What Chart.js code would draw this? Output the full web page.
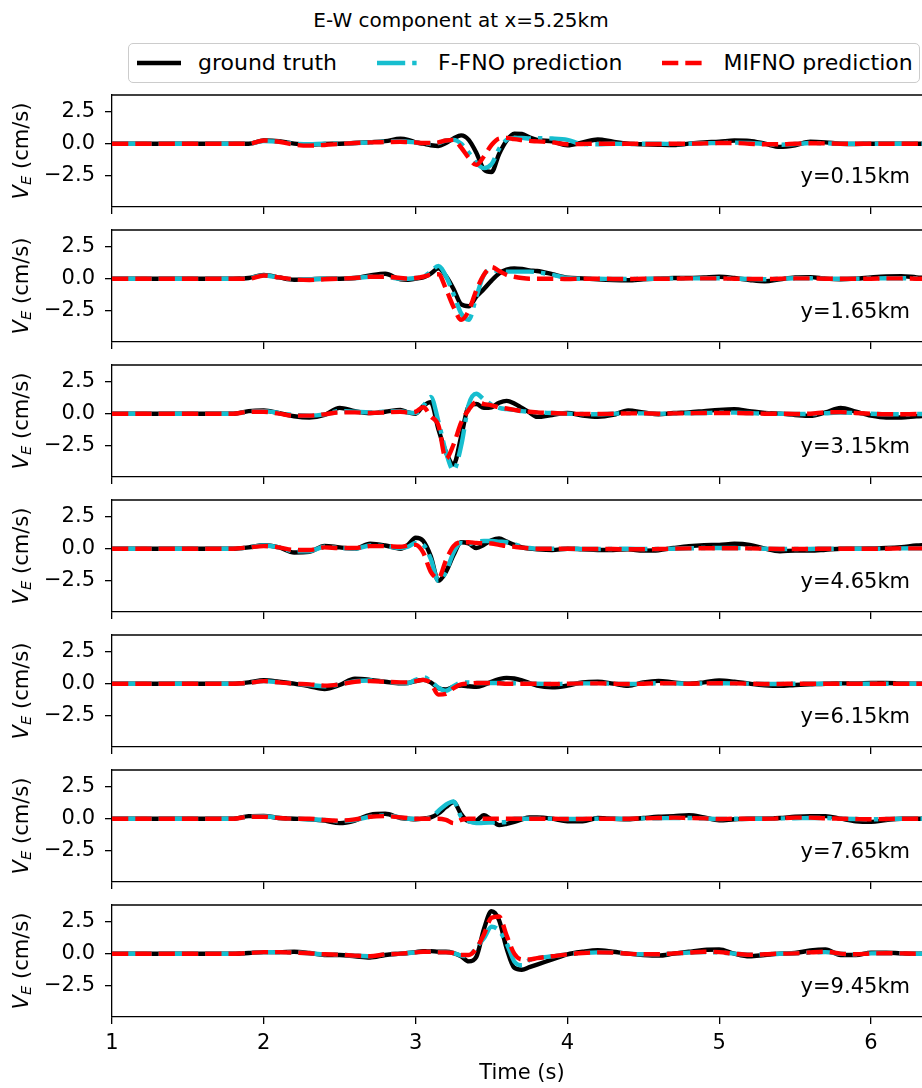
<!DOCTYPE html>
<html>
<head>
<meta charset="utf-8">
<script src="https://cdn.jsdelivr.net/npm/chart.js@4.4.1/dist/chart.umd.min.js"></script>
<style>
  html, body { margin: 0; padding: 0; background: #fff; }
  body { position: relative; width: 922px; height: 1088px; overflow: hidden; font-family: 'DejaVu Sans', sans-serif; color: #000; }
  .txt { position: absolute; white-space: nowrap; font-size: 21px; line-height: 21px; }
  #title { left: 461px; top: 9.5px; font-size: 20px; line-height: 20px; transform: translateX(-50%); }
  #legend { position: absolute; left: 128px; top: 43px; width: 792px; height: 40px; box-sizing: border-box;
            border: 1px solid #cccccc; border-radius: 5px; background: rgba(255,255,255,.8);
            display: flex; align-items: center; padding-left: 8px; font-size: 22px; line-height: 22px; white-space: nowrap; }
  #legend .item { display: flex; align-items: center; margin-right: 40px; }
  #legend svg { margin-right: 17px; }
  .ylab { transform: translate(-50%, -50%) rotate(-90deg); }
  .ylab sub { font-size: 0.7em; line-height: 0; vertical-align: -0.25em; font-style: italic; }
  .panel { position: absolute; left: 0; }
</style>
</head>
<body>
<div id="title" class="txt">E-W component at x=5.25km</div>
<div id="legend">
  <div class="item"><svg width="44" height="10"><line x1="0" y1="5" x2="44" y2="5" stroke="#000000" stroke-width="4.4"/></svg>ground truth</div>
  <div class="item"><svg width="44" height="10"><line x1="0" y1="5" x2="44" y2="5" stroke="#17becf" stroke-width="4.4" stroke-dasharray="28.2 7 4.4 7"/></svg>F-FNO prediction</div>
  <div class="item"><svg width="44" height="10"><line x1="0" y1="5" x2="44" y2="5" stroke="#ff0000" stroke-width="4.4" stroke-dasharray="16.3 7"/></svg>MIFNO prediction</div>
</div>
<div id="panels"></div>
<div id="xlabel" class="txt" style="left:522px; top:1062px; transform: translateX(-50%);">Time (s)</div>

<script>
'use strict';

// ─── Sampling times (s) ───────────────────────────────────────
const TIME = [
  1.0, 1.2, 1.4, 1.6, 1.8,
  1.9, 2.0, 2.1, 2.2, 2.3, 2.4, 2.5, 2.6, 2.7, 2.8, 2.9,
  2.95, 3.0, 3.05, 3.1, 3.15, 3.2, 3.25, 3.3, 3.35, 3.4, 3.45, 3.5, 3.55, 3.6, 3.65, 3.7, 3.75, 3.8,
  3.9, 4.0, 4.1, 4.2, 4.3, 4.4, 4.5, 4.6, 4.7, 4.8, 4.9, 5.0, 5.1, 5.2, 5.3, 5.4, 5.5, 5.6, 5.7, 5.8, 5.9, 6.0, 6.1, 6.2, 6.3, 6.4,
];

const positions = ['y=0.15km', 'y=1.65km', 'y=3.15km', 'y=4.65km', 'y=6.15km', 'y=7.65km', 'y=9.45km'];
const xTicks = [1, 2, 3, 4, 5, 6];
const yTicks = [-2.5, 0, 2.5];

// ─── V_E (cm/s) : y = 0.15 km ─────────────────────────────────
const truth015 = [
  0, 0, 0, 0, 0,
  0, 0.25, 0.2, 0.0, -0.08, -0.02, 0.0, 0.05, 0.12, 0.2, 0.38,
  0.3, 0.1, 0.0, -0.12, -0.18, 0.05, 0.4, 0.65, 0.3, -0.7, -2.0, -2.2, -0.8, 0.25, 0.78, 0.75, 0.5, 0.3,
  0.18, -0.12, 0.1, 0.33, 0.15, 0.0, -0.05, -0.08, -0.1, 0.0, 0.1, 0.15, 0.25, 0.22, 0.0, -0.25, -0.12, 0.15, 0.1, 0.0, -0.02, 0.0, 0.0, 0.0, 0.0, 0.0,
];
const ffno015 = [
  0, 0, 0, 0, 0,
  0, 0.2, 0.15, 0.0, -0.05, 0.0, 0.0, 0.05, 0.1, 0.15, 0.2,
  0.15, 0.1, 0.05, 0.0, 0.05, 0.25, 0.3, 0.0, -0.7, -1.5, -1.9, -1.6, -0.4, 0.3, 0.45, 0.45, 0.4, 0.42,
  0.4, 0.3, -0.03, -0.05, 0.0, -0.03, 0.0, 0.0, -0.03, 0.0, 0.03, 0.05, 0.08, 0.05, -0.02, -0.08, -0.03, 0.05, 0.03, 0.0, 0.0, 0.0, 0.0, 0.0, 0.0, 0.0,
];
const mifno015 = [
  0, 0, 0, 0, 0,
  0, 0.25, 0.15, -0.08, -0.15, -0.1, -0.02, 0.05, 0.1, 0.12, 0.15,
  0.12, 0.1, 0.05, 0.05, 0.1, 0.25, 0.3, -0.3, -1.1, -1.65, -1.0, -0.1, 0.4, 0.45, 0.35, 0.28, 0.22, 0.18,
  0.1, -0.05, -0.02, 0.0, 0.0, 0.0, -0.02, -0.03, 0.0, 0.0, 0.02, 0.05, 0.05, 0.0, -0.05, -0.05, 0.0, 0.03, 0.02, 0.0, 0.0, 0.0, 0.0, 0.0, 0.0, 0.0,
];

// ─── y = 1.65 km ──────────────────────────────────────────────
const truth165 = [
  0, 0, 0, 0, 0,
  0.05, 0.3, 0.1, -0.08, -0.05, 0.0, 0.0, 0.05, 0.25, 0.38, -0.05,
  -0.08, 0.0, 0.1, 0.4, 0.8, 0.2, -0.8, -2.0, -2.15, -1.4, -0.8, -0.15, 0.4, 0.7, 0.8, 0.75, 0.65, 0.6,
  0.35, 0.08, 0.02, -0.05, -0.1, -0.12, -0.05, 0.0, 0.05, 0.05, 0.1, 0.15, 0.05, -0.1, -0.2, -0.05, 0.1, 0.12, 0.0, -0.05, 0.0, 0.1, 0.18, 0.2, 0.1, 0.05,
];
const ffno165 = [
  0, 0, 0, 0, 0,
  0.05, 0.25, 0.1, -0.05, -0.05, 0.0, 0.0, 0.05, 0.15, 0.15, 0.0,
  0.0, 0.05, 0.15, 0.55, 1.0, 0.2, -1.2, -2.7, -3.2, -1.4, 0.3, 0.65, 0.6, 0.55, 0.55, 0.55, 0.55, 0.5,
  0.3, 0.05, 0.0, 0.0, -0.03, -0.03, 0.0, 0.0, 0.02, 0.02, 0.03, 0.03, 0.0, -0.03, -0.05, 0.0, 0.03, 0.03, 0.0, 0.0, 0.0, 0.02, 0.03, 0.03, 0.02, 0.0,
];
const mifno165 = [
  0, 0, 0, 0, 0,
  0.0, 0.25, 0.1, -0.05, -0.1, -0.05, 0.0, 0.05, 0.15, 0.15, 0.05,
  0.0, 0.05, 0.15, 0.3, 0.35, -0.8, -2.2, -3.2, -2.5, -0.9, 0.3, 0.9, 0.6, 0.3, 0.15, 0.05, 0.0, 0.0,
  0.0, -0.03, 0.0, 0.0, -0.02, -0.03, 0.0, 0.0, 0.0, 0.02, 0.02, 0.02, 0.0, -0.02, -0.03, 0.0, 0.02, 0.02, 0.0, 0.0, 0.0, 0.0, 0.02, 0.02, 0.0, 0.0,
];

// ─── y = 3.15 km ──────────────────────────────────────────────
const truth315 = [
  0, 0, 0, 0, 0,
  0.2, 0.25, 0.05, -0.2, -0.3, -0.1, 0.45, 0.2, 0.05, 0.15, 0.3,
  0.1, 0.0, 0.6, 0.9, -1.2, -3.0, -3.95, -1.8, 0.6, 0.75, 0.45, 0.5, 0.85, 1.0, 0.8, 0.45, 0.1, -0.25,
  -0.1, 0.05, -0.15, -0.25, -0.1, 0.25, 0.1, -0.05, 0.05, 0.1, 0.2, 0.3, 0.35, 0.2, 0.05, 0.0, -0.1, -0.17, 0.1, 0.45, 0.15, -0.15, -0.3, -0.3, -0.2, -0.15,
];
const ffno315 = [
  0, 0, 0, 0, 0,
  0.15, 0.2, 0.05, -0.1, -0.15, -0.05, 0.2, 0.15, 0.1, 0.15, 0.2,
  0.1, 0.05, 0.6, 1.3, -0.6, -3.0, -4.4, -2.5, 0.7, 1.55, 1.1, 0.7, 0.45, 0.35, 0.3, 0.2, 0.15, 0.1,
  0.05, 0.0, -0.03, -0.05, 0.0, 0.03, 0.02, 0.0, 0.02, 0.03, 0.05, 0.08, 0.08, 0.05, 0.0, 0.0, -0.03, -0.03, 0.03, 0.08, 0.05, 0.0, -0.05, -0.05, -0.03, -0.03,
];
const mifno315 = [
  0, 0, 0, 0, 0,
  0.15, 0.15, 0.0, -0.15, -0.15, -0.05, 0.1, 0.1, 0.05, 0.1, 0.15,
  0.1, 0.15, 0.5, -0.2, -0.9, -3.5, -2.4, -0.7, 0.3, 0.9, 0.75, 0.65, 0.5, 0.4, 0.3, 0.2, 0.15, 0.1,
  0.05, 0.0, -0.02, -0.03, 0.0, 0.02, 0.02, 0.0, 0.02, 0.03, 0.05, 0.05, 0.05, 0.03, 0.0, 0.0, -0.02, 0.0, 0.1, 0.12, 0.05, 0.0, -0.05, -0.05, -0.03, -0.03,
];

// ─── y = 4.65 km ──────────────────────────────────────────────
const truth465 = [
  0, 0, 0, 0, 0,
  0.1, 0.27, 0.1, -0.3, -0.25, 0.22, 0.1, 0.0, 0.38, 0.25, 0.0,
  0.3, 0.85, 0.6, -0.6, -2.5, -1.8, -0.5, 0.5, 0.4, 0.05, 0.3, 0.65, 0.8, 0.55, 0.3, 0.1, 0.0, -0.05,
  -0.1, 0.0, -0.05, -0.1, -0.1, -0.05, -0.15, -0.12, 0.05, 0.2, 0.28, 0.3, 0.38, 0.3, 0.0, -0.2, -0.15, -0.15, -0.08, 0.0, 0.0, 0.02, 0.05, 0.12, 0.25, 0.3,
];
const ffno465 = [
  0, 0, 0, 0, 0,
  0.1, 0.25, 0.1, -0.2, -0.2, 0.15, 0.05, 0.0, 0.25, 0.2, 0.05,
  0.15, 0.45, 0.3, -0.8, -2.5, -1.8, -0.3, 0.45, 0.35, 0.55, 0.6, 0.6, 0.55, 0.5, 0.35, 0.15, 0.05, 0.0,
  0.0, 0.0, -0.02, -0.03, -0.02, 0.0, -0.03, -0.02, 0.0, 0.03, 0.05, 0.05, 0.05, 0.03, 0.0, -0.03, -0.02, -0.02, 0.0, 0.0, 0.0, 0.0, 0.0, 0.02, 0.03, 0.03,
];
const mifno465 = [
  0, 0, 0, 0, 0,
  0.1, 0.2, 0.1, -0.1, -0.1, 0.1, 0.05, 0.05, 0.2, 0.2, 0.15,
  0.25, 0.3, -0.3, -1.8, -2.3, -0.9, 0.2, 0.5, 0.5, 0.45, 0.42, 0.4, 0.3, 0.2, 0.15, 0.08, 0.03, 0.0,
  0.0, 0.0, -0.02, -0.03, -0.03, -0.05, -0.05, -0.03, 0.0, 0.02, 0.03, 0.03, 0.03, 0.02, 0.0, -0.02, -0.02, -0.02, 0.0, 0.0, 0.0, 0.0, 0.0, 0.02, 0.02, 0.02,
];

// ─── y = 6.15 km ──────────────────────────────────────────────
const truth615 = [
  0, 0, 0, 0, 0,
  0.1, 0.27, 0.15, 0.0, -0.2, -0.42, -0.1, 0.38, 0.3, 0.15, 0.02,
  0.05, 0.2, 0.3, 0.1, -0.35, -0.45, -0.25, -0.15, -0.2, -0.25, -0.1, 0.15, 0.35, 0.45, 0.4, 0.25, 0.05, -0.15,
  -0.28, -0.15, 0.1, 0.15, 0.0, -0.17, 0.1, 0.22, 0.1, 0.0, 0.1, 0.25, 0.15, 0.0, -0.12, -0.17, -0.1, -0.05, 0.0, 0.02, 0.02, 0.05, 0.05, 0.02, 0.0, 0.0,
];
const ffno615 = [
  0, 0, 0, 0, 0,
  0.05, 0.2, 0.1, 0.0, -0.1, -0.2, -0.05, 0.2, 0.25, 0.15, 0.05,
  0.05, 0.3, 0.5, 0.2, -0.3, -0.55, -0.2, 0.1, 0.1, 0.05, 0.05, 0.05, 0.05, 0.05, 0.03, 0.0, 0.0, 0.0,
  -0.03, 0.0, 0.02, 0.02, 0.0, -0.03, 0.0, 0.03, 0.02, 0.0, 0.02, 0.03, 0.02, 0.0, -0.02, -0.02, 0.0, 0.0, 0.0, 0.0, 0.0, 0.0, 0.0, 0.0, 0.0, 0.0,
];
const mifno615 = [
  0, 0, 0, 0, 0,
  0.05, 0.2, 0.1, 0.0, -0.05, -0.15, -0.05, 0.15, 0.2, 0.15, 0.1,
  0.1, 0.2, 0.3, 0.05, -0.85, -0.8, -0.35, -0.05, 0.0, 0.05, 0.05, 0.05, 0.03, 0.0, 0.0, 0.0, 0.0, 0.0,
  -0.03, 0.0, 0.02, 0.02, 0.0, -0.03, 0.0, 0.03, 0.02, 0.0, 0.02, 0.03, 0.02, 0.0, -0.02, -0.02, 0.0, 0.0, 0.0, 0.0, 0.0, 0.0, 0.0, 0.0, 0.0, 0.0,
];

// ─── y = 7.65 km ──────────────────────────────────────────────
const truth765 = [
  0, 0, 0, 0, 0,
  0.2, 0.22, 0.05, 0.0, -0.05, -0.15, -0.35, -0.15, 0.3, 0.38, 0.05,
  0.0, -0.05, 0.0, 0.1, 0.4, 0.9, 1.3, 0.35, -0.2, -0.15, 0.28, -0.1, -0.5, -0.4, -0.25, -0.05, 0.1, 0.1,
  0.0, -0.2, -0.2, 0.05, 0.0, -0.05, 0.05, 0.15, 0.2, 0.27, 0.1, -0.12, -0.05, 0.0, 0.0, 0.05, 0.15, 0.2, 0.2, 0.0, -0.2, -0.25, -0.1, 0.0, 0.0, 0.0,
];
const ffno765 = [
  0, 0, 0, 0, 0,
  0.15, 0.2, 0.05, 0.0, -0.05, -0.1, -0.2, -0.1, 0.15, 0.25, 0.1,
  0.0, 0.0, 0.0, 0.1, 0.6, 1.1, 1.35, 0.15, -0.2, -0.35, -0.32, -0.3, -0.28, -0.25, 0.0, 0.0, 0.0, 0.0,
  0.0, -0.03, -0.02, 0.0, 0.0, 0.0, 0.02, 0.03, 0.05, 0.05, 0.02, -0.03, 0.0, 0.0, 0.0, 0.02, 0.03, 0.05, 0.05, 0.0, -0.03, -0.05, -0.02, 0.0, 0.0, 0.0,
];
const mifno765 = [
  0, 0, 0, 0, 0,
  0.15, 0.15, 0.05, 0.0, 0.0, -0.1, -0.15, -0.05, 0.15, 0.2, 0.1,
  0.05, 0.0, 0.0, 0.0, 0.0, -0.1, -0.35, -0.1, 0.0, 0.0, 0.0, 0.0, 0.0, 0.0, 0.0, 0.0, 0.0, 0.0,
  0.0, -0.03, -0.02, 0.0, 0.0, 0.0, 0.02, 0.05, 0.08, 0.05, 0.02, -0.03, 0.0, 0.0, 0.0, 0.03, 0.08, 0.08, 0.03, 0.0, -0.03, -0.05, -0.02, 0.0, 0.0, 0.0,
];

// ─── y = 9.45 km ──────────────────────────────────────────────
const truth945 = [
  0, 0, 0, 0, 0,
  0.05, 0.12, 0.12, 0.15, 0.05, -0.1, -0.1, -0.2, -0.3, -0.1, 0.0,
  0.05, 0.12, 0.2, 0.2, 0.15, 0.15, 0.05, -0.2, -0.6, -0.25, 1.9, 3.3, 2.6, 0.4, -1.1, -1.25, -1.05, -0.85,
  -0.45, -0.05, 0.15, 0.27, 0.15, 0.0, -0.1, -0.15, 0.0, 0.15, 0.3, 0.33, 0.0, -0.2, -0.1, 0.0, 0.05, 0.25, 0.33, -0.1, -0.1, 0.08, 0.08, 0.02, 0.0, 0.0,
];
const ffno945 = [
  0, 0, 0, 0, 0,
  0.05, 0.12, 0.1, 0.1, 0.03, -0.05, -0.08, -0.15, -0.2, -0.05, 0.0,
  0.05, 0.1, 0.15, 0.15, 0.1, 0.1, 0.05, -0.15, -0.2, 0.5, 1.2, 2.1, 1.8, 0.8, -0.6, -0.9, -0.5, -0.35,
  -0.2, -0.05, 0.05, 0.1, 0.08, 0.0, -0.05, -0.05, 0.02, 0.08, 0.12, 0.1, 0.0, -0.08, -0.05, 0.0, 0.02, 0.08, 0.12, 0.0, -0.05, 0.02, 0.03, 0.02, 0.0, 0.0,
];
const mifno945 = [
  0, 0, 0, 0, 0,
  0.05, 0.12, 0.12, 0.08, 0.03, -0.05, -0.08, -0.15, -0.2, -0.05, 0.0,
  0.05, 0.1, 0.15, 0.15, 0.1, 0.1, 0.05, -0.1, -0.1, 0.4, 1.5, 2.8, 2.9, 1.4, 0.0, -0.45, -0.45, -0.35,
  -0.2, -0.05, 0.05, 0.1, 0.08, 0.0, -0.05, -0.05, 0.02, 0.08, 0.15, 0.12, 0.0, -0.08, -0.05, 0.0, 0.02, 0.1, 0.15, 0.0, -0.05, 0.02, 0.03, 0.02, 0.0, 0.0,
];

const truthSeries = [truth015, truth165, truth315, truth465, truth615, truth765, truth945];
const ffnoSeries  = [ffno015, ffno165, ffno315, ffno465, ffno615, ffno765, ffno945];
const mifnoSeries = [mifno015, mifno165, mifno315, mifno465, mifno615, mifno765, mifno945];

// ─── Layout ───────────────────────────────────────────────────
const PLOT_LEFT  = 112;
const PLOT_TOP   = 95;
const PLOT_H     = 112;
const PLOT_STEP  = 135;
const PAD_TOP    = 10;
const PX_PER_SEC = 151.8;
const X_MIN = 1;
const X_MAX = X_MIN + (922 - PLOT_LEFT) / PX_PER_SEC;
const Y_MIN = -4.93;
const Y_MAX = 3.79;
const FONT  = { family: "'DejaVu Sans'", size: 21 };
const LW    = 4.4;

const fmtTick = v => (v < 0 ? '\u2212' : '') + Math.abs(v).toFixed(1);
const toPoints = arr => {
  if (arr.length !== TIME.length) throw new Error('series length ' + arr.length + ' != ' + TIME.length);
  return TIME.map((t, i) => ({ x: t, y: arr[i] }));
};

const topSpine = {
  id: 'topSpine',
  afterDraw(chart) {
    const { ctx, chartArea } = chart;
    ctx.save();
    ctx.strokeStyle = '#000';
    ctx.lineWidth = 1.3;
    ctx.beginPath();
    ctx.moveTo(chartArea.left - 0.65, chartArea.top);
    ctx.lineTo(chartArea.right, chartArea.top);
    ctx.stroke();
    ctx.restore();
  },
};

function addText(cls, text, style) {
  const el = document.createElement('div');
  el.className = 'txt ' + cls;
  el.innerHTML = text;
  Object.assign(el.style, style);
  document.body.appendChild(el);
  return el;
}

function renderPanel(i) {
  const last   = i === positions.length - 1;
  const top    = PLOT_TOP + i * PLOT_STEP;
  const axisH  = last ? 60 : 10;
  const holder = document.createElement('div');
  holder.className = 'panel';
  holder.style.top = (top - PAD_TOP) + 'px';
  const canvas = document.createElement('canvas');
  canvas.width  = 922;
  canvas.height = PAD_TOP + PLOT_H + axisH;
  holder.appendChild(canvas);
  document.getElementById('panels').appendChild(holder);

  const tickGrid = { drawOnChartArea: false, drawTicks: true, tickLength: 7, color: '#000', lineWidth: 1.3 };
  const border   = { display: true, color: '#000', width: 1.3 };

  new Chart(canvas.getContext('2d'), {
    type: 'line',
    data: {
      datasets: [
        { label: 'MIFNO prediction', data: toPoints(mifnoSeries[i]), borderColor: '#ff0000', borderDash: [16.3, 7], order: 1 },
        { label: 'F-FNO prediction', data: toPoints(ffnoSeries[i]),  borderColor: '#17becf', borderDash: [28.2, 7, 4.4, 7], order: 2 },
        { label: 'ground truth',     data: toPoints(truthSeries[i]), borderColor: '#000000', order: 3 },
      ],
    },
    options: {
      responsive: false,
      animation: false,
      devicePixelRatio: 1,
      layout: { padding: { top: PAD_TOP, left: 0, right: 0, bottom: 0 } },
      elements: {
        point: { radius: 0 },
        line: { borderWidth: LW, cubicInterpolationMode: 'monotone', borderCapStyle: 'butt', borderJoinStyle: 'round', fill: false },
      },
      plugins: { legend: { display: false }, tooltip: { enabled: false } },
      scales: {
        x: {
          type: 'linear', min: X_MIN, max: X_MAX,
          afterBuildTicks: s => { s.ticks = xTicks.map(v => ({ value: v })); },
          afterFit: s => { s.height = axisH; s.paddingLeft = 0; s.paddingRight = 0; },
          grid: tickGrid, border,
          ticks: { display: last, color: '#000', font: FONT, padding: 7, maxRotation: 0, callback: v => String(v) },
        },
        y: {
          type: 'linear', min: Y_MIN, max: Y_MAX,
          afterBuildTicks: s => { s.ticks = yTicks.map(v => ({ value: v })); },
          afterFit: s => { s.width = PLOT_LEFT; s.paddingTop = 0; s.paddingBottom = 0; },
          grid: tickGrid, border,
          ticks: { color: '#000', font: FONT, padding: 10, callback: v => fmtTick(v) },
        },
      },
    },
    plugins: [topSpine],
  });

  addText('ylab', '<i>V</i><sub>E</sub> (cm/s)', { left: '21px', top: (top + PLOT_H / 2) + 'px' });
  addText('note', positions[i], { right: '12px', top: (top + 70.7) + 'px' });
}

positions.forEach((_, i) => renderPanel(i));
</script>
</body>
</html>
